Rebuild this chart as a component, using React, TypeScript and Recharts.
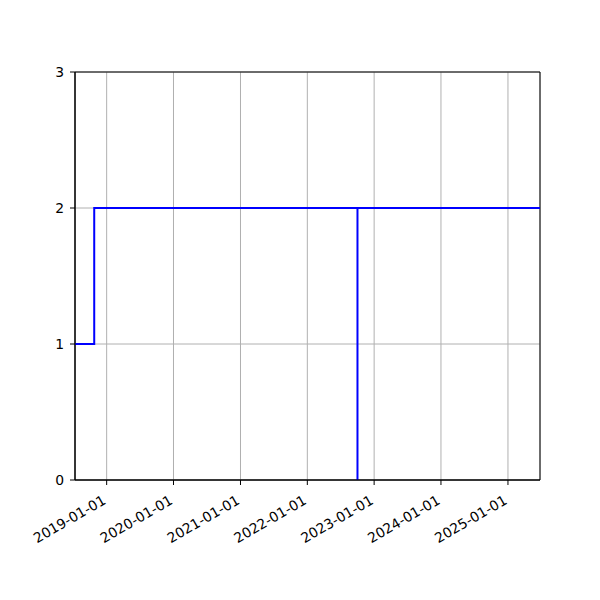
import { LineChart, Line, XAxis, YAxis, CartesianGrid, ReferenceArea } from "recharts";

// step series
const dates = ["2018-07-12", "2018-10-25", "2022-10-02", "2022-10-02", "2025-06-25"];
const values = [1, 2, 0, 2, 2];

const xTicks = ["2019-01-01", "2020-01-01", "2021-01-01", "2022-01-01", "2023-01-01", "2024-01-01", "2025-01-01"];
const yTicks = [0, 1, 2, 3];

const toTs = (s: string) => Date.parse(s + "T00:00:00Z");
const fmt = (v: number) => new Date(v).toISOString().slice(0, 10);

const data = dates.map((d, i) => ({ t: toTs(d), v: values[i] }));
const xDomain = [toTs(dates[0]), toTs(dates[dates.length - 1])];

const font = "'DejaVu Sans', sans-serif";

const DateTick = ({ x, y, payload }: any) => (
  <g transform={`translate(${x - 5},${y + 7})`}>
    <text
      transform="rotate(-30)"
      textAnchor="end"
      dy="0.75em"
      fontSize={13.9}
      fontFamily={font}
      fill="#000"
    >
      {fmt(payload.value)}
    </text>
  </g>
);

export default function App() {
  return (
    <div style={{ position: "absolute", left: 0, top: 0, background: "#fff" }}>
      <LineChart
        width={600}
        height={600}
        data={data}
        margin={{ top: 72, right: 60, bottom: 60, left: 0 }}
      >
        <CartesianGrid stroke="#b0b0b0" strokeWidth={1} />
        <XAxis
          dataKey="t"
          type="number"
          scale="time"
          domain={xDomain}
          ticks={xTicks.map(toTs)}
          tick={<DateTick />}
          tickSize={5}
          height={60}
          stroke="#000"
          interval={0}
          allowDataOverflow
        />
        <YAxis
          type="number"
          domain={[0, 3]}
          ticks={yTicks}
          width={75}
          tickSize={5}
          tickMargin={6}
          stroke="#000"
          tick={{ fontSize: 13.9, fontFamily: font, fill: "#000" }}
          interval={0}
        />
        <ReferenceArea
          x1={xDomain[0]}
          x2={xDomain[1]}
          y1={0}
          y2={3}
          fill="none"
          stroke="#000"
          strokeWidth={1}
          ifOverflow="visible"
        />
        <Line
          dataKey="v"
          type="stepAfter"
          stroke="#0000ff"
          strokeWidth={2}
          dot={false}
          isAnimationActive={false}
        />
      </LineChart>
    </div>
  );
}
